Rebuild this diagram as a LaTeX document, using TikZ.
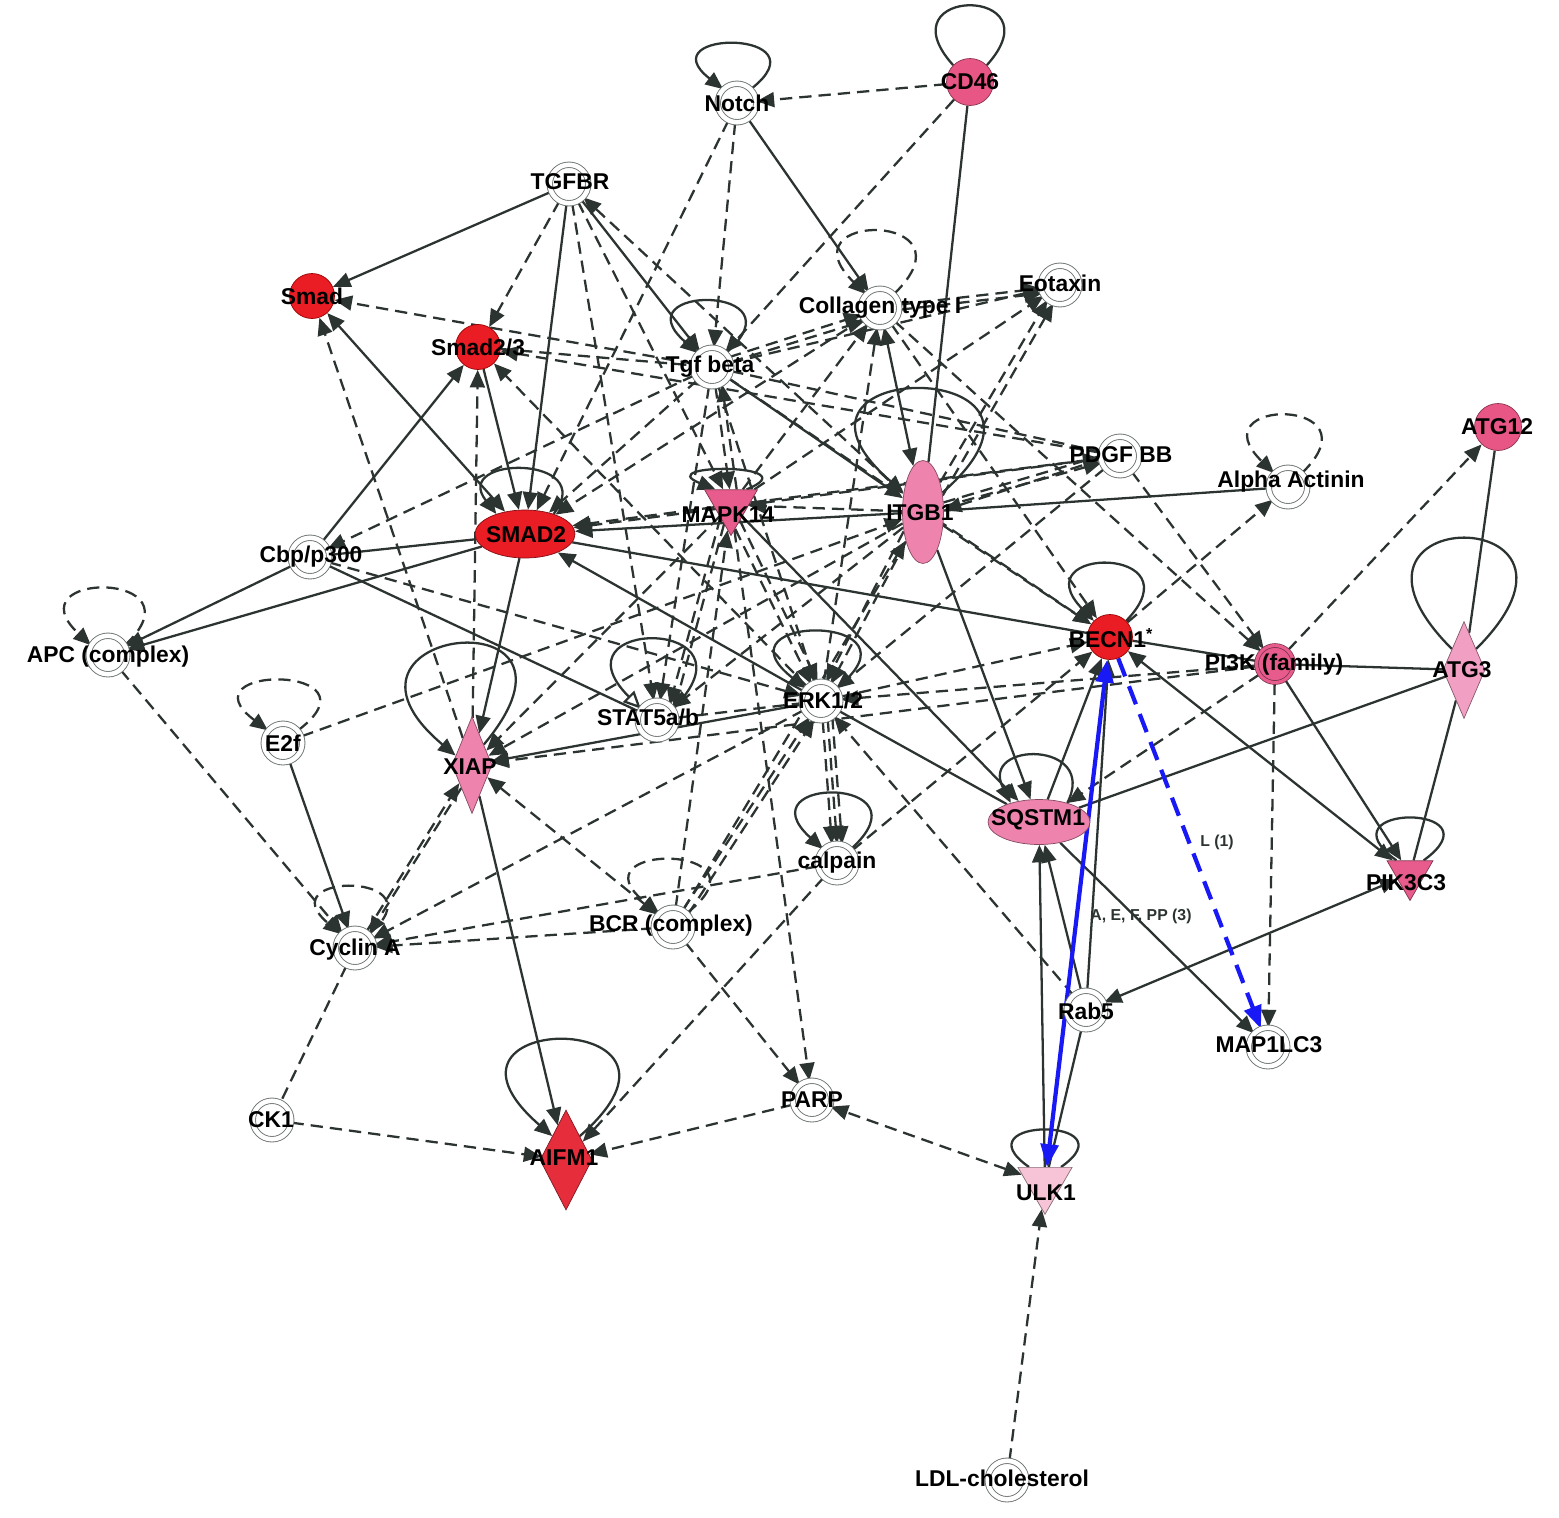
\documentclass[tikz,border=0pt]{standalone}
\usepackage{fontspec}
\setmainfont{Liberation Sans}
\usetikzlibrary{shapes.geometric,arrows.meta}
\definecolor{lc}{RGB}{44,52,50}
\definecolor{rg}{RGB}{105,113,111}
\definecolor{redA}{RGB}{234,28,36}
\definecolor{redB}{RGB}{230,45,60}
\definecolor{pinkA}{RGB}{231,86,132}
\definecolor{pinkB}{RGB}{231,92,140}
\definecolor{pinkC}{RGB}{238,132,174}
\definecolor{pinkD}{RGB}{241,160,196}
\definecolor{pinkE}{RGB}{246,196,214}
\definecolor{blu}{RGB}{25,25,245}
\pgfdeclarelayer{edges}
\pgfsetlayers{edges,main}
\tikzset{
  lab/.style={font=\fontsize{13}{14}\selectfont\bfseries, text=black, inner sep=0pt},
  elab/.style={font=\fontsize{9}{10}\selectfont\bfseries, text=lc, inner sep=0pt},
  pln/.style={circle, draw=rg, line width=0.5pt, double=white, double distance=2.6pt, fill=white, minimum size=0.77cm, inner sep=0pt},
  redc/.style={circle, fill=redA, draw=red!60!black, line width=0.4pt, minimum size=0.9cm, inner sep=0pt},
  pinkc/.style={circle, fill=pinkA, draw=pinkA!60!black, line width=0.4pt, minimum size=0.94cm, inner sep=0pt},
  dia/.style={diamond, draw=#1!55!black, fill=#1, line width=0.4pt, inner sep=0pt},
  tri/.style={regular polygon, regular polygon sides=3, shape border rotate=180, draw=#1!55!black, fill=#1, line width=0.4pt, inner sep=0pt},
  ell/.style={ellipse, draw=#1!55!black, fill=#1, line width=0.4pt, inner sep=0pt},
  ln/.style={draw=lc, line width=1.3pt},
  dl/.style={draw=lc, line width=1.3pt, dash pattern=on 7pt off 4pt},
  ar/.style={-{Triangle[length=10pt,width=8.5pt]}},
  ba/.style={{Triangle[length=10pt,width=8.5pt]}-{Triangle[length=10pt,width=8.5pt]}},
  oa/.style={-{Triangle[open,length=10pt,width=9pt,fill=white]}},
  bla/.style={-{Triangle[length=13pt,width=10pt]}},
  blb/.style={{Triangle[length=13pt,width=10pt]}-{Triangle[length=13pt,width=10pt]}},
}
\begin{document}
\begin{tikzpicture}[x=0.02cm,y=-0.02cm]
\useasboundingbox (0,0) rectangle (1559,1518);
% ---------- nodes ----------
\node[pln] (Notch) at (737,103) {};
\node[lab] at (Notch.center) {Notch};
\node[pinkc] (CD46) at (970,82) {};
\node[lab] at (CD46.center) {CD46};
\node[pln] (TGFBR) at (569,184) {};
\node[lab] at (570,182) {TGFBR};
\node[redc] (Smad) at (312,296) {};
\node[lab] at (Smad.center) {Smad};
\node[redc] (Smad23) at (478,347) {};
\node[lab] at (Smad23.center) {Smad2/3};
\node[pln] (Coll) at (880,308) {};
\node[lab] at (Coll.center) {Collagen type I};
\node[pln] (Eotaxin) at (1060,285) {};
\node[lab] at (1060,283) {Eotaxin};
\node[pln] (Tgfb) at (712,367) {};
\node[lab] at (710,367) {Tgf beta};
\node[pln] (PDGF) at (1120,456) {};
\node[lab] at (1121,455) {PDGF BB};
\node[pln] (AlphaA) at (1288,487) {};
\node[lab] at (1291,482) {Alpha Actinin};
\node[pinkc] (ATG12) at (1498,427) {};
\node[lab] at (1497,427) {ATG12};
\node[ell=pinkC, minimum width=0.82cm, minimum height=2.06cm] (ITGB1) at (923,512) {};
\node[lab] at (920,513) {ITGB1};
\node[tri=pinkB, minimum size=1.22cm] (MAPK14) at (731,505) {};
\node[lab] at (728,515) {MAPK14};
\node[ell=redA, minimum width=2cm, minimum height=0.96cm] (SMAD2) at (525,534) {};
\node[lab] at (526,535) {SMAD2};
\node[pln] (Cbp) at (310,557) {};
\node[lab] at (311,557) {Cbp/p300};
\node[pln] (APC) at (108,655) {};
\node[lab] at (108,657) {APC (complex)};
\node[redc] (BECN1) at (1110,637) {};
\node[lab] at (1111,638) {BECN1\textsuperscript{*}};
\node[circle, fill=pinkB, draw=pinkB!50!black, double=pinkB, double distance=1.8pt, line width=0.4pt, minimum size=0.74cm, inner sep=0pt] (PI3K) at (1275,664) {};
\node[lab] at (1274,665) {PI3K (family)};
\node[dia=pinkD, minimum width=0.84cm, minimum height=1.94cm] (ATG3) at (1464,670) {};
\node[lab] at (1462,670) {ATG3};
\node[pln] (E2f) at (283,743) {};
\node[lab] at (E2f.center) {E2f};
\node[pln] (STAT5) at (657,720) {};
\node[lab] at (648,717) {STAT5a/b};
\node[pln] (ERK) at (821,701) {};
\node[lab] at (823,700) {ERK1/2};
\node[dia=pinkC, minimum width=0.8cm, minimum height=1.94cm] (XIAP) at (472,765) {};
\node[lab] at (470,767) {XIAP};
\node[ell=pinkC, minimum width=2.04cm, minimum height=0.9cm] (SQSTM1) at (1039,822) {};
\node[lab] at (1038,820) {SQSTM1};
\node[pln] (calpain) at (837,863) {};
\node[lab] at (837,863) {calpain};
\node[tri=pinkB, minimum size=1.06cm] (PIK3C3) at (1410,874) {};
\node[lab] at (1406,883) {PIK3C3};
\node[pln] (BCR) at (673,927) {};
\node[lab] at (671,926) {BCR (complex)};
\node[pln] (CycA) at (355,948) {};
\node[lab] at (355,950) {Cyclin A};
\node[pln] (Rab5) at (1086,1010) {};
\node[lab] at (1086,1011) {Rab5};
\node[pln] (MAP1LC3) at (1268,1047) {};
\node[lab] at (1269,1045) {MAP1LC3};
\node[pln] (CK1) at (272,1120) {};
\node[lab] at (271,1120) {CK1};
\node[dia=redB, minimum width=1.04cm, minimum height=2cm] (AIFM1) at (566,1160) {};
\node[lab] at (564,1158) {AIFM1};
\node[pln] (PARP) at (812,1100) {};
\node[lab] at (812,1100) {PARP};
\node[tri=pinkE, minimum size=1.25cm] (ULK1) at (1045,1183) {};
\node[lab] at (1046,1193) {ULK1};
\node[pln] (LDL) at (1007,1480) {};
\node[lab] at (1002,1478) {LDL-cholesterol};
\node[elab] (lblA) at (1141,916) {A, E, F, PP (3)};
\node[elab] (lblL) at (1217,842) {L (1)};
% ---------- edges ----------
\begin{pgfonlayer}{edges}
% self loops
\draw[ln,ar] (Notch.45) to[out=38,in=142,distance=1.95cm] (Notch.135);
\draw[ln] (CD46.45) to[out=48,in=132,distance=2.15cm] (CD46.135);
\draw[dl,ar] (Coll.45) to[out=44,in=136,distance=2.4cm] (Coll.135);
\draw[ln,ar] (Tgfb.45) to[out=41,in=139,distance=2.1cm] (Tgfb.135);
\draw[dl,ar] (AlphaA.45) to[out=44,in=136,distance=2.2cm] (AlphaA.135);
\draw[ln,ar] (SMAD2.35) to[out=52,in=128,distance=1.5cm] (SMAD2.145);
\draw[dl,ar] (APC.30) to[out=43,in=137,distance=2.2cm] (APC.150);
\draw[dl,ar] (E2f.40) to[out=37,in=143,distance=2.2cm] (E2f.140);
\draw[ln,oa] (STAT5.35) to[out=45,in=135,distance=2.6cm] (STAT5.145);
\draw[ln,ar] (ERK.40) to[out=38,in=142,distance=2.45cm] (ERK.140);
\draw[ln,ar] (XIAP.60) to[out=50,in=140,distance=4cm] (XIAP.150);
\draw[ln,ar] (BECN1.45) to[out=46,in=134,distance=2.1cm] (BECN1.135);
\draw[ln] (ATG3.60) to[out=45,in=135,distance=4.2cm] (ATG3.120);
\draw[ln,ar] (ITGB1.45) to[out=41,in=139,distance=4.2cm] (ITGB1.135);
\draw[ln,ar] (AIFM1.60) to[out=41,in=139,distance=3.9cm] (AIFM1.120);
\draw[ln,ar] (SQSTM1.34) to[out=63,in=117,distance=1.4cm] (SQSTM1.146);
\draw[ln,ar] (calpain.45) to[out=42,in=138,distance=2.2cm] (calpain.135);
\draw[ln] (PIK3C3.45) to[out=36,in=144,distance=1.95cm] (PIK3C3.135);
\draw[dl,ar] (BCR.45) to[out=38,in=142,distance=2.3cm] (BCR.135);
\draw[dl,ar] (CycA.45) to[out=40,in=140,distance=1.95cm] (CycA.135);
\draw[ln] (ULK1.45) to[out=35,in=145,distance=1.75cm] (ULK1.135);
\draw[ln,ar] (MAPK14.45) to[out=22,in=158,distance=1.4cm] (MAPK14.135);
% Notch / CD46
\draw[dl,ar] (CD46) -- (Notch);
\draw[ln,ar] (Notch) -- (Coll);
\draw[dl,ar] (Notch) -- (Tgfb);
\draw[dl,ar] (Notch) -- (SMAD2);
\draw[dl,ar] (CD46) -- (Tgfb);
\draw[ln] (CD46) -- (ITGB1);
% TGFBR
\draw[ln,ar] (TGFBR) -- (Smad);
\draw[dl,ar] (TGFBR) -- (Smad23);
\draw[ln,ar] (TGFBR) -- (SMAD2);
\draw[ln,ar] (TGFBR) -- (Tgfb);
\draw[dl,ba] (TGFBR) -- (ITGB1);
\draw[dl,ar] (TGFBR) -- (MAPK14);
\draw[dl,ar] (TGFBR) -- (STAT5);
% Smad, Smad2/3
\draw[dl,ar] (Tgfb) -- (Smad);
\draw[dl,ar] (XIAP) -- (Smad);
\draw[ln,ba] (Smad) -- (SMAD2);
\draw[ln,ar] (Cbp) -- (Smad23);
\draw[dl,ar] (XIAP) -- (Smad23);
\draw[ln,ar] (Smad23) -- (SMAD2);
\draw[dl,ar] (ERK) -- (Smad23);
\draw[dl] (Smad23) -- (Tgfb);
\draw[dl,ar] (PDGF) -- (Smad23);
% SMAD2
\draw[ln] (SMAD2) -- (Cbp);
\draw[ln,ar] (SMAD2) -- (APC);
\draw[ln,ar] (Cbp) -- (APC);
\draw[ln,ar] (SMAD2) -- (XIAP);
\draw[ln,ar] (ITGB1) -- (SMAD2);
\draw[dl,ar] (MAPK14) -- (SMAD2.10);
\draw[ln] (SMAD2) -- (BECN1);
\draw[ln,ar] (ERK) -- (SMAD2);
\draw[dl,ar] (Tgfb) -- (SMAD2);
\draw[dl,ar] (Coll) -- (SMAD2);
\draw[dl,ar] (PDGF) -- (SMAD2);
% Cbp, APC, E2f
\draw[dl,ar] (Tgfb) -- (Cbp);
\draw[ln] (Cbp) -- (STAT5);
\draw[dl,ar] (Cbp) -- (ERK);
\draw[dl,ar] (APC) -- (CycA);
\draw[ln,ar] (E2f) -- (CycA);
\draw[dl,ar] (E2f) -- (ITGB1);
% Cyclin A
\draw[dl,ar] (CycA.55) -- (XIAP.235);
\draw[dl,ar] (XIAP.245) -- (CycA.45);
\draw[dl,ar] (ERK) -- (CycA);
\draw[dl,ar] (calpain) -- (CycA);
\draw[dl,ar] (BCR) -- (CycA);
\draw[dl] (CycA) -- (CK1);
% XIAP
\draw[ln,ar] (XIAP) -- (AIFM1);
\draw[ln,ar] (ERK) -- (XIAP);
\draw[dl,ar] (PI3K) -- (XIAP);
\draw[dl,ba] (XIAP) -- (BCR);
\draw[dl,ar] (MAPK14) -- (XIAP);
\draw[dl,ar] (ITGB1) -- (XIAP);
% STAT5
\draw[dl,ar] (MAPK14.230) -- (STAT5.50);
\draw[dl,ar] (MAPK14.250) -- (STAT5.30);
\draw[dl,ar] (Tgfb) -- (STAT5);
\draw[dl,ar] (ITGB1) -- (STAT5);
\draw[dl] (STAT5) -- (ERK);
% ERK
\draw[dl,ar] (MAPK14.280) -- (ERK.120);
\draw[dl,ar] (MAPK14.300) -- (ERK.100);
\draw[dl,ar] (ITGB1.240) -- (ERK.60);
\draw[dl,ar] (ITGB1.225) -- (ERK.75);
\draw[dl,ar] (Tgfb) -- (ERK);
\draw[dl,ar] (PDGF) -- (ERK);
\draw[dl,ar] (PI3K) -- (ERK);
\draw[dl,ar] (ERK) -- (BECN1);
\draw[dl,ar] (BCR.60) -- (ERK.235);
\draw[dl,ar] (BCR.40) -- (ERK.250);
\draw[dl,ar] (Rab5) -- (ERK);
\draw[dl,ar] (ERK.275) -- (calpain.105);
\draw[dl,ar] (ERK.290) -- (calpain.90);
\draw[dl,ar] (ERK.305) -- (calpain.75);
\draw[ln] (ERK) -- (SQSTM1);
\draw[dl,ar] (ERK) -- (Coll);
% MAPK14
\draw[ln,ar] (MAPK14) -- (SQSTM1);
\draw[dl,ar] (MAPK14) -- (PARP);
\draw[dl,ar] (Tgfb.280) -- (MAPK14.95);
\draw[dl,ar] (MAPK14.70) -- (Tgfb.300);
\draw[dl,ar] (MAPK14) -- (Coll);
\draw[dl,ar] (MAPK14) -- (Eotaxin);
\draw[dl,ar] (MAPK14) -- (PDGF);
\draw[dl,ar] (BCR) -- (MAPK14);
\draw[dl,ar] (ITGB1) -- (MAPK14);
% ITGB1
\draw[ln,ba] (Coll) -- (ITGB1);
\draw[ln,ar] (ITGB1) -- (SQSTM1);
\draw[ln] (ITGB1) -- (AlphaA);
\draw[dl,ar] (ITGB1.15) -- (PDGF.200);
\draw[dl,ar] (PDGF.190) -- (ITGB1.5);
\draw[dl] (ITGB1.25) -- (PDGF.180);
\draw[dl,ar] (ITGB1) -- (BECN1);
\draw[ln,ar] (Tgfb) -- (ITGB1);
\draw[dl,ar] (ITGB1.60) -- (Eotaxin.230);
\draw[dl,ar] (ITGB1.40) -- (Eotaxin.250);
\draw[dl,ar] (BCR) -- (ITGB1);
% Collagen, Eotaxin, PDGF
\draw[dl,ar] (Tgfb.30) -- (Coll.200);
\draw[dl,ar] (Tgfb.15) -- (Coll.220);
\draw[dl,ar] (Coll.10) -- (Eotaxin.190);
\draw[dl,ar] (Coll.-5) -- (Eotaxin.205);
\draw[dl,ar] (Tgfb) -- (Eotaxin);
\draw[dl,ar] (Coll) -- (PI3K);
\draw[dl,ar] (Coll) -- (BECN1);
\draw[dl,ar] (PDGF) -- (PI3K);
\draw[dl] (Tgfb) -- (PDGF);
% Alpha Actinin, ATG12
\draw[dl,ar] (BECN1) -- (AlphaA);
\draw[dl,ar] (PI3K) -- (ATG12);
\draw[ln] (ATG12) -- (ATG3);
% BECN1
\draw[ln] (BECN1) -- (PI3K);
\draw[ln] (PI3K) -- (ATG3);
\draw[ln,ba] (BECN1) -- (PIK3C3);
\draw[ln,ar] (SQSTM1) -- (BECN1);
\draw[ln,ar] (Rab5) -- (BECN1);
\draw[dl,ar] (calpain) -- (BECN1);
\draw[dl,ar] (Tgfb) -- (BECN1);
% PI3K, ATG3, PIK3C3
\draw[dl,ar] (PI3K) -- (MAP1LC3);
\draw[ln,ar] (PI3K) -- (PIK3C3);
\draw[dl,ar] (PI3K) -- (SQSTM1);
\draw[ln] (ATG3) -- (SQSTM1);
\draw[ln] (ATG3) -- (PIK3C3);
\draw[ln,ba] (Rab5) -- (PIK3C3);
% SQSTM1, Rab5, ULK1
\draw[ln,ar] (SQSTM1) -- (MAP1LC3);
\draw[ln,ar] (Rab5) -- (SQSTM1);
\draw[ln,ar] (ULK1) -- (SQSTM1);
\draw[ln] (Rab5) -- (ULK1);
\draw[dl,ba] (ULK1) -- (PARP);
\draw[dl,ar] (LDL) -- (ULK1);
% AIFM1, PARP
\draw[dl,ar] (calpain) -- (AIFM1);
\draw[dl,ar] (PARP) -- (AIFM1);
\draw[dl,ar] (CK1) -- (AIFM1);
\draw[dl,ar] (BCR) -- (PARP);
% blue
\draw[blu, line width=2.4pt, blb] (ULK1) -- (BECN1);
\draw[blu, line width=2.4pt, dash pattern=on 11pt off 6pt, bla] (BECN1) -- (MAP1LC3);
\end{pgfonlayer}
\end{tikzpicture}
\end{document}
